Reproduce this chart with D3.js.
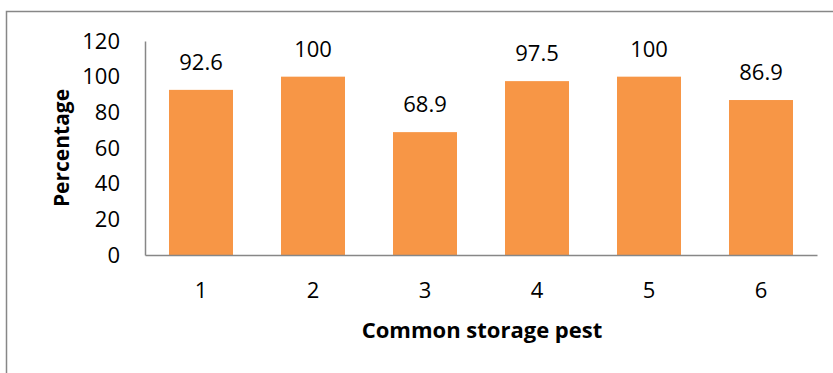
<!DOCTYPE html>
<html>
<head>
<meta charset="utf-8">
<script src="https://cdn.jsdelivr.net/npm/d3@7"></script>
<style>
  body { margin:0; background:#fff; }
  text { font-family:"Open Sans", sans-serif; fill:#000; }
</style>
</head>
<body>
<svg></svg>
<script>
var categories = ["1","2","3","4","5","6"];
var values = [92.6, 100, 68.9, 97.5, 100, 86.9];
var yTicks = [0,20,40,60,80,100,120];

var screen = { width:833, height:373 };

var svg = d3.select("svg")
            .attr("width",screen.width)
            .attr("height",screen.height);

// outer frame, runs off the right and bottom
svg.append("rect")
   .attr("x",6.5).attr("y",11.5)
   .attr("width",900).attr("height",500)
   .attr("fill","none")
   .attr("stroke","#878787")
   .attr("stroke-width",1.5);

var margins = { left:145, right:16, top:41, bottom:118 };
var width = screen.width - margins.left - margins.right;
var height = screen.height - margins.top - margins.bottom;

var xScale = d3.scaleBand()
               .domain(categories)
               .range([0,width])
               .paddingInner(0.4286)
               .paddingOuter(0.2143);
var yScale = d3.scaleLinear()
               .domain([0,120])
               .range([height,0]);

var plotLand = svg.append("g")
                  .attr("transform","translate("+margins.left+","+margins.top+")");

plotLand.selectAll("rect.bar")
  .data(values)
  .enter()
  .append("rect")
  .attr("class","bar")
  .attr("x",function(d,i){return xScale(categories[i])})
  .attr("y",function(d){return yScale(d)})
  .attr("width",xScale.bandwidth())
  .attr("height",function(d){return height - yScale(d)})
  .attr("fill","#F79646");

plotLand.selectAll("text.val")
  .data(values)
  .enter()
  .append("text")
  .attr("class","val")
  .attr("x",function(d,i){return xScale(categories[i]) + xScale.bandwidth()/2})
  .attr("y",function(d){return yScale(d) - 20})
  .attr("text-anchor","middle")
  .style("font-size","22px")
  .text(function(d){return d});

// axes
var yAxis = d3.axisLeft(yScale).tickValues(yTicks).tickSize(0).tickPadding(25);
var yG = plotLand.append("g").call(yAxis);
yG.select(".domain").attr("stroke","#878787").attr("stroke-width",1.5);
yG.selectAll("text").style("font-size","22px").style("font-family","'Open Sans', sans-serif");

var xAxis = d3.axisBottom(xScale).tickSize(0).tickPadding(27);
var xG = plotLand.append("g")
  .attr("transform","translate(0,"+height+")")
  .call(xAxis);
xG.select(".domain").attr("stroke","#878787").attr("stroke-width",1.5);
xG.selectAll("text").style("font-size","22px").style("font-family","'Open Sans', sans-serif");

// titles
svg.append("text")
   .attr("transform","translate(69,148) rotate(-90)")
   .attr("text-anchor","middle")
   .style("font-size","21px")
   .style("font-weight","bold")
   .text("Percentage");

svg.append("text")
   .attr("x",482)
   .attr("y",338)
   .attr("text-anchor","middle")
   .style("font-size","22px")
   .style("font-weight","bold")
   .text("Common storage pest");
</script>
</body>
</html>
